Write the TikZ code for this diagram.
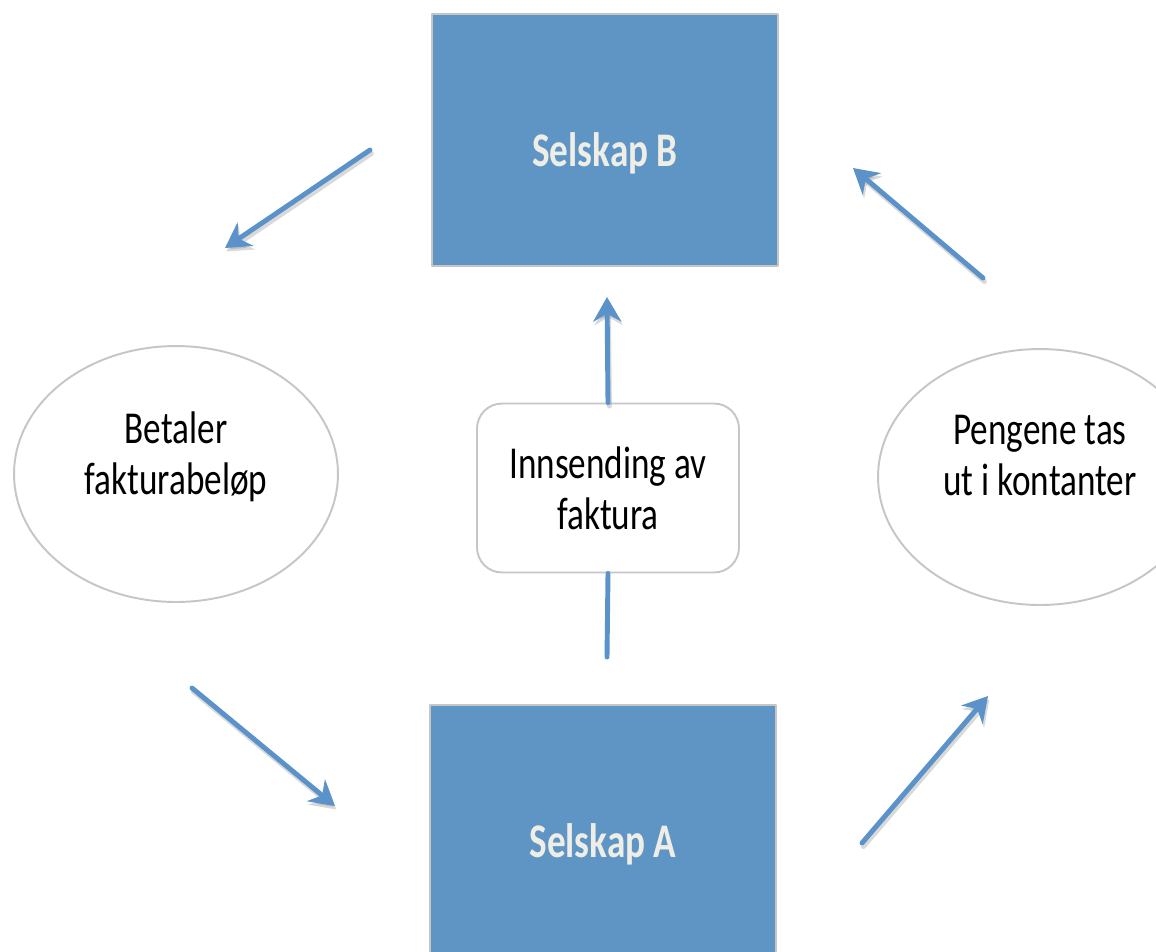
\documentclass[tikz,border=0pt]{standalone}
\usepackage{fontspec}
\setmainfont[FakeStretch=0.77]{Carlito}
\usetikzlibrary{arrows.meta, shapes.geometric, positioning}
\definecolor{wblue}{HTML}{5E95C5}
\definecolor{arrowblue}{HTML}{5A92C9}
\definecolor{edgegray}{HTML}{C6C6C6}
\definecolor{chalk}{HTML}{EFEEE6}
\tikzset{
  el/.style={line cap=round, line join=round},
  firm/.style={rectangle, fill=wblue, draw=edgegray, line width=1.2pt,
    minimum width=6.92cm, minimum height=5.04cm, text=chalk,
    text height=1.26cm, text depth=0.2cm,
    font=\fontsize{27.5}{30}\selectfont\bfseries},
  bubble/.style={ellipse, draw=edgegray, line width=1.1pt, fill=white,
    minimum width=6.48cm, minimum height=5.12cm, align=center,
    text depth=0.85cm, font=\fontsize{26}{29}\selectfont},
  card/.style={rectangle, rounded corners=0.5cm, draw=edgegray, line width=1.1pt,
    fill=white, minimum width=5.24cm, minimum height=3.38cm, align=center,
    font=\fontsize{26}{29}\selectfont},
  flow/.style={arrowblue, line width=2.8pt, -{Stealth[length=14pt, width=16pt, inset=4.5pt]}},
  flowshade/.style={flow, draw=black!50, opacity=0.3,
    transform canvas={shift={(0.8pt,-2pt)}}}
}

\begin{document}
\begin{tikzpicture}[x=0.02cm, y=-0.02cm, el]
  \useasboundingbox (0,0) rectangle (1156,951);

  % the two companies
  \node[firm] (B) at (605,140) {Selskap B};
  \node[firm] (A) at (603,831) {Selskap A};

  % steps between them
  \node[bubble] (pay) at (176,474) {Betaler\\fakturabeløp};
  \node[bubble] (cash) at (1040,477) {Pengene tas\\ut i kontanter};

  % free ends of the loose arrows
  \coordinate (p1) at (370,150); \coordinate (p2) at (225,248);
  \coordinate (p3) at (983,278); \coordinate (p4) at (853,168);
  \coordinate (p5) at (192,688); \coordinate (p6) at (335,806);
  \coordinate (p7) at (862,843); \coordinate (p8) at (988,696);
  \coordinate (m1) at (607,657); \coordinate (m2) at (607,297);

  \foreach \s/\e in {p1/p2, p3/p4, p5/p6, p7/p8}{
     \draw[flowshade] (\s) -- (\e);
     \draw[flow] (\s) -- (\e);}

  % invoice sent up the middle
  \node[card] (inv) at (608,488) {Innsending av\\faktura};
  \draw[arrowblue, line width=2.8pt] (m1) -- (inv.south);
  \draw[flowshade] (inv.north) -- (m2);
  \draw[flow] (inv.north) -- (m2);
\end{tikzpicture}
\end{document}
